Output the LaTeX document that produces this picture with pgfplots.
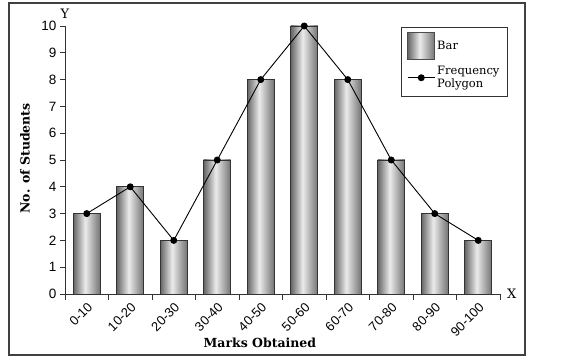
\documentclass[border=0pt]{standalone}
\usepackage{fontspec}
\setmainfont{DejaVu Serif}
\newfontfamily\tickfont{Liberation Sans}
\usepackage{pgfplots}
\usepackage{pgfplotstable}
\pgfplotsset{compat=1.18}
\pgfdeclarehorizontalshading{barshade}{100bp}{color(0bp)=(black!60); color(25bp)=(black!60); color(47bp)=(black!8); color(75bp)=(black!55); color(100bp)=(black!55)}
\pgfplotstableread{
x y
0.5 3
1.5 4
2.5 2
3.5 5
4.5 8
5.5 10
6.5 8
7.5 5
8.5 3
9.5 2
}\datatable
\pgfplotsset{barsty/.style={ybar, bar width=27pt, bar shift=0pt, draw=black!80, line width=0.6pt, shade, shading=barshade, forget plot}}
\begin{document}
\begin{tikzpicture}
\begin{axis}[
  width=435pt, height=268pt, scale only axis,
  xmin=0, xmax=10, ymin=0, ymax=10,
  axis lines*=left,
  axis line style={line width=0.8pt, black!80},
  xtick={0.5,1.5,2.5,3.5,4.5,5.5,6.5,7.5,8.5,9.5},
  xticklabels={0-10,10-20,20-30,30-40,40-50,50-60,60-70,70-80,80-90,90-100},
  major x tick style={draw=none},
  minor xtick={0,1,...,10},
  ytick={0,1,...,10},
  tick align=outside,
  tick style={black!80, line width=0.8pt},
  major tick length=5pt, minor tick length=6pt,
  x tick label style={rotate=45, anchor=north east, font=\tickfont\fontsize{13}{13}\selectfont, inner sep=2pt},
  y tick label style={font=\tickfont\fontsize{13.5}{13.5}\selectfont},
  /pgf/number format/assume math mode=true,
  xlabel={\textbf{Marks Obtained}},
  ylabel={\textbf{No. of Students}},
  label style={font=\fontsize{12.5}{12.5}\selectfont},
  xlabel style={at={(axis description cs:0.448,-0.183)}, anchor=center},
  ylabel style={at={(axis description cs:-0.092,0.506)}, anchor=center},
  clip=false,
  legend style={at={(axis description cs:1.018,0.996)}, anchor=north east,
    draw=black!80, line width=0.8pt, font=\fontsize{11.5}{13.5}\selectfont,
    cells={anchor=west, align=left}, row sep=4pt, inner xsep=6pt, inner ysep=5pt},
]
\addplot[barsty] coordinates {(0.5,3)};
\addplot[barsty] coordinates {(1.5,4)};
\addplot[barsty] coordinates {(2.5,2)};
\addplot[barsty] coordinates {(3.5,5)};
\addplot[barsty] coordinates {(4.5,8)};
\addplot[barsty] coordinates {(5.5,10)};
\addplot[barsty] coordinates {(6.5,8)};
\addplot[barsty] coordinates {(7.5,5)};
\addplot[barsty] coordinates {(8.5,3)};
\addplot[barsty] coordinates {(9.5,2)};
\addlegendimage{legend image code/.code={\draw[black!70, line width=0.6pt, shade, shading=barshade] (0pt,-13.5pt) rectangle (27pt,13.5pt);}}
\addlegendentry{Bar}
\addplot[black, line width=0.9pt, mark=*, mark size=3pt,
  legend image code/.code={\draw[black, line width=0.9pt] (0pt,0pt) -- (27pt,0pt); \fill[black] (13.5pt,0pt) circle (3pt);}]
  table[x=x,y=y] {\datatable};
\addlegendentry{Frequency\\Polygon}
\node[font=\fontsize{13}{13}\selectfont] at (axis description cs:0.0,1.045) {Y};
\node[font=\fontsize{13}{13}\selectfont] at (axis description cs:1.027,0.0) {X};
\draw[black!75, line width=1.2pt] (axis description cs:-0.1287,-0.2276) rectangle (axis description cs:1.0575,1.0858);
\coordinate (bl) at (axis description cs:-0.1494,-0.2537);
\coordinate (tr) at (axis description cs:1.1425,1.097);
\end{axis}
\pgfresetboundingbox
\useasboundingbox (bl) rectangle (tr);
\end{tikzpicture}
\end{document}
